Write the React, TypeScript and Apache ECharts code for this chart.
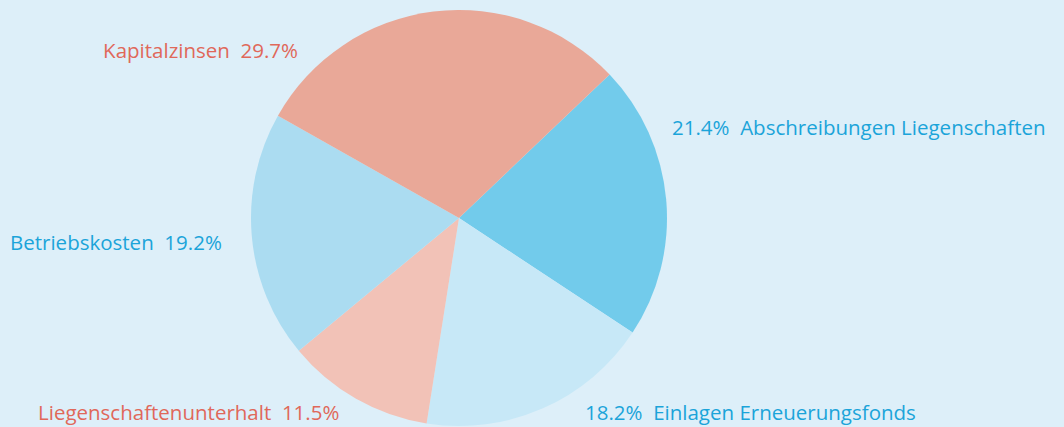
import React, { useEffect, useRef } from "react";
import * as echarts from "echarts";

const categories = [
  "Abschreibungen Liegenschaften",
  "Einlagen Erneuerungsfonds",
  "Liegenschaftenunterhalt",
  "Betriebskosten",
  "Kapitalzinsen",
];
const values = [21.4, 18.2, 11.5, 19.2, 29.7];
const percentFirst = [true, true, false, false, false];
const sliceColors = ["#72cbeb", "#c7e8f7", "#f2c2b7", "#abdcf1", "#e9a898"];
const labelColors = ["#1ba4d9", "#1ba4d9", "#e0685a", "#1ba4d9", "#e0685a"];
// label anchor positions (style): [x, y, align]
const labelPos: [number, number, string][] = [
  [672, 127, "left"],
  [585, 412, "left"],
  [38, 412, "left"],
  [10, 242, "left"],
  [298, 50, "right"],
];

export default function App() {
  const ref = useRef<HTMLDivElement>(null);
  useEffect(() => {
    const chart = echarts.init(ref.current!, undefined, { renderer: "svg" });
    chart.setOption({
      animation: false,
      backgroundColor: "#ddeff9",
      series: [
        {
          type: "pie",
          center: [459, 218],
          radius: 208,
          startAngle: 43.6,
          clockwise: true,
          silent: true,
          labelLine: { show: false },
          label: {
            show: true,
            position: "outside",
            fontFamily: "Open Sans",
            fontSize: 20.5,
            overflow: "none",
          },
          labelLayout: (p: any) => {
            const [x, y, align] = labelPos[p.dataIndex];
            return { x, y, align, verticalAlign: "middle", width: 500 };
          },
          data: categories.map((name, i) => ({
            name,
            value: values[i],
            itemStyle: { color: sliceColors[i] },
            label: {
              color: labelColors[i],
              overflow: "none",
              formatter: percentFirst[i]
                ? `${values[i].toFixed(1)}%  ${name}`
                : `${name}  ${values[i].toFixed(1)}%`,
            },
          })),
        },
      ],
    });
    return () => chart.dispose();
  }, []);
  return (
    <div
      ref={ref}
      style={{ position: "fixed", left: 0, top: 0, width: 1064, height: 427 }}
    />
  );
}
